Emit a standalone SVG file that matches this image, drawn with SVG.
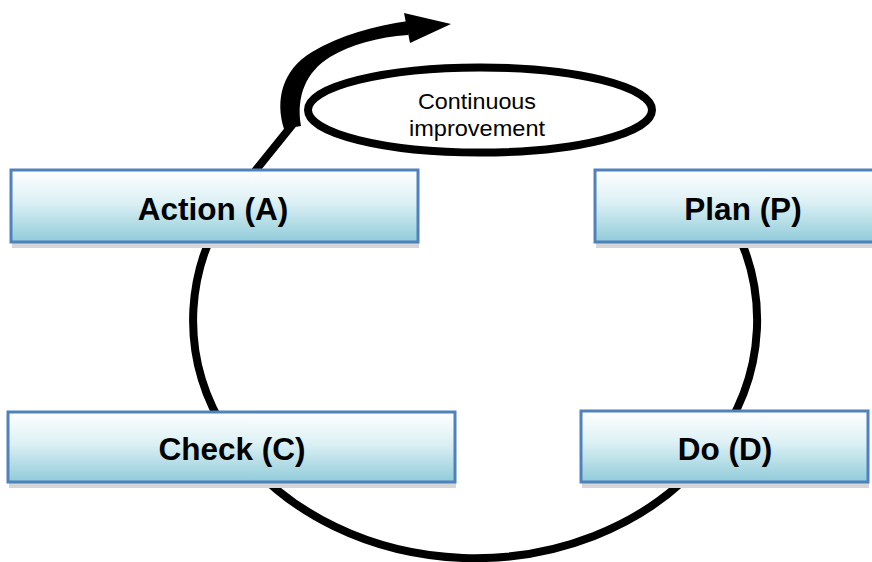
<svg xmlns="http://www.w3.org/2000/svg" width="872" height="562" viewBox="0 0 872 562">
  <defs>
    <linearGradient id="boxFill" x1="0" y1="0" x2="0" y2="1">
      <stop offset="0" stop-color="#ffffff"/>
      <stop offset="0.45" stop-color="#dcf0f4"/>
      <stop offset="1" stop-color="#90cbd9"/>
    </linearGradient>
    <style>
      .loop { fill: none; stroke: #000; stroke-width: 8; stroke-linecap: butt; }
      .ring { fill: none; stroke: #000; stroke-width: 8; }
      .shadow { fill: #d6d6d6; }
      .box { fill: url(#boxFill); stroke: #4f81bd; stroke-width: 3; }
      .label { font-family: "Liberation Sans", Arial, sans-serif; font-weight: bold; font-size: 31.5px; fill: #000; text-anchor: middle; }
      .note { font-family: "Liberation Sans", Arial, sans-serif; font-size: 22px; fill: #000; text-anchor: middle; }
    </style>
  </defs>

  <rect width="872" height="562" fill="#ffffff"/>

  <!-- cycle loop, spiral arm and improvement ring -->
  <g id="connectors">
    <path class="loop" d="M 730.6,219.4 A 282 238 0 1 1 231,201 L 293,124"/>
    <ellipse class="ring" cx="480" cy="110" rx="172" ry="42.5"/>
    <path d="M 284,129 C 275,100 282,70 312,52 C 340,35 375,26 408,21 L 408,35 C 378,37 350,45 330,57 C 306,72 296,96 301,126 Z" fill="#000"/>
    <polygon points="404,13 451,24 410,43" fill="#000"/>
  </g>

  <g id="note">
    <text class="note" x="477" y="109" textLength="118" lengthAdjust="spacingAndGlyphs">Continuous</text>
    <text class="note" x="477" y="136" textLength="136" lengthAdjust="spacingAndGlyphs">improvement</text>
  </g>

  <g id="node-action">
    <rect class="shadow" x="12" y="174" width="407" height="74"/>
    <rect class="box" x="11" y="170" width="407" height="72"/>
    <text class="label" x="213" y="220">Action (A)</text>
  </g>

  <g id="node-plan">
    <rect class="shadow" x="596" y="174" width="300" height="74"/>
    <rect class="box" x="595" y="170" width="300" height="72"/>
    <text class="label" x="743" y="220">Plan (P)</text>
  </g>

  <g id="node-check">
    <rect class="shadow" x="9" y="415" width="447" height="73"/>
    <rect class="box" x="8" y="412" width="447" height="70"/>
    <text class="label" x="232" y="460">Check (C)</text>
  </g>

  <g id="node-do">
    <rect class="shadow" x="582" y="414" width="287" height="74"/>
    <rect class="box" x="581" y="411" width="287" height="71"/>
    <text class="label" x="725" y="460">Do (D)</text>
  </g>
</svg>
